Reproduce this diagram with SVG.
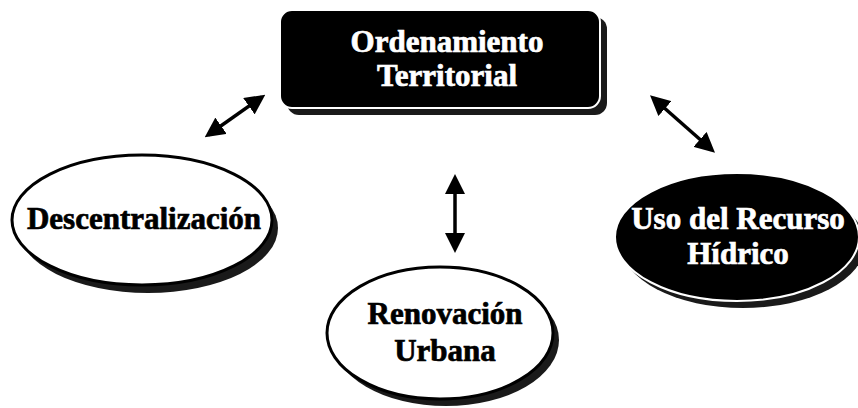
<svg xmlns="http://www.w3.org/2000/svg" width="858" height="408" viewBox="0 0 858 408">
<defs>
<style>
.lbl{font-family:"Liberation Serif","Times New Roman",serif;font-weight:bold;font-size:31px;text-anchor:middle;dominant-baseline:central;stroke-width:0.7}
.dark{fill:#000;stroke:#000}
.light{fill:#fff;stroke:#fff}
.shadow{fill:#1a1a1a}
.conn{stroke:#000;stroke-width:3.5;fill:none;marker-start:url(#ah);marker-end:url(#ah)}
</style>
<marker id="ah" markerUnits="userSpaceOnUse" markerWidth="20" markerHeight="20" viewBox="0 0 20 20" refX="16" refY="10" orient="auto-start-reverse">
<path d="M0,0 L20,10 L0,20 z" fill="#000"/>
</marker>
</defs>
<rect width="858" height="408" fill="#fff"/>
<g id="connectors">
<line class="conn" x1="208" y1="135" x2="262" y2="97"/>
<line class="conn" x1="653" y1="98" x2="712" y2="150"/>
<line class="conn" x1="455" y1="178" x2="455" y2="249"/>
</g>
<g id="ordenamiento">
<rect class="shadow" x="287" y="17" width="320" height="98" rx="12"/>
<rect x="280" y="10" width="320" height="98" rx="12" fill="#000" stroke="#fff" stroke-width="2"/>
<text class="lbl light" x="447" y="41">Ordenamiento</text>
<text class="lbl light" x="447" y="75">Territorial</text>
</g>
<g id="descentralizacion">
<ellipse class="shadow" cx="148" cy="228" rx="130" ry="65"/>
<ellipse cx="142" cy="220" rx="130" ry="65" fill="#fff" stroke="#000" stroke-width="3"/>
<text class="lbl dark" x="144" y="218">Descentralización</text>
</g>
<g id="renovacion">
<ellipse class="shadow" cx="446" cy="340" rx="113" ry="66"/>
<ellipse cx="440" cy="333" rx="113" ry="66" fill="#fff" stroke="#000" stroke-width="3"/>
<text class="lbl dark" x="445" y="313">Renovación</text>
<text class="lbl dark" x="445" y="350">Urbana</text>
</g>
<g id="recurso">
<ellipse class="shadow" cx="743" cy="244" rx="122" ry="64"/>
<ellipse cx="737" cy="237" rx="122" ry="64" fill="#000" stroke="#fff" stroke-width="2"/>
<text class="lbl light" x="738" y="218">Uso del Recurso</text>
<text class="lbl light" x="738" y="253">Hídrico</text>
</g>
</svg>
